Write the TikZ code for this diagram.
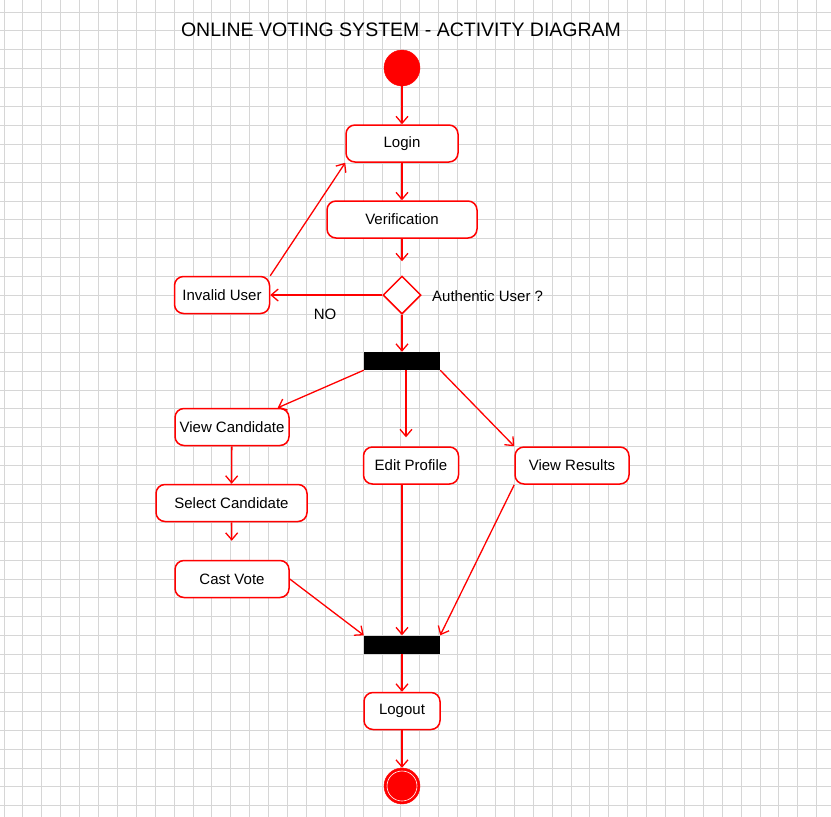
\documentclass[tikz,border=0pt]{standalone}
\usepackage{fontspec}
\setmainfont{Liberation Sans}
\usetikzlibrary{arrows.meta,shapes.geometric}
\definecolor{OvsRed}{RGB}{255,0,0}
\definecolor{OvsGrid}{RGB}{214,214,214}
\tikzset{
  ovs/box/.style={
    draw=OvsRed,
    line width=1.5pt,
    rounded corners=9pt,
    fill=white,
    align=center,
    text=black,
    minimum height=37pt,
    inner sep=0pt,
    font=\fontsize{15}{17}\selectfont
  },
  ovs/bar/.style={fill=black, draw=none, minimum width=76pt, minimum height=18pt, inner sep=0pt},
  ovs/start/.style={circle, fill=OvsRed, draw=OvsRed, minimum size=36pt, inner sep=0pt},
  ovs/stop/.style={circle, fill=OvsRed, draw=OvsRed, minimum size=36pt, inner sep=0pt,
    path picture={\draw[white, line width=0.6pt] (path picture bounding box.center) circle (15pt);}},
  ovs/decision/.style={diamond, draw=OvsRed, line width=1.5pt, fill=white, minimum width=38pt, minimum height=38pt, inner sep=0pt},
  ovs/arrow/.style={-{Straight Barb[length=7pt,width=12pt,line width=1.3pt]}, line width=1.3pt, draw=OvsRed},
  ovs/label/.style={font=\fontsize{15}{17}\selectfont, text=black, inner sep=0pt},
  ovs/title/.style={font=\fontsize{19.5}{22}\selectfont, text=black},
  ovs/gridline/.style={draw=OvsGrid, line width=1pt}
}

\begin{document}
\begin{tikzpicture}[x=1pt,y=-1pt]
  \useasboundingbox (0,0) rectangle (831,817);
  \fill[white] (0,0) rectangle (831,817);
  % background grid
  \foreach \i in {0,...,43} {
    \draw[ovs/gridline] ({4+18.9*\i},0) -- ({4+18.9*\i},817);
    \draw[ovs/gridline] (0,{12+18.9*\i}) -- (831,{12+18.9*\i});
  }

  \node[ovs/title] (title) at (401,30) {ONLINE VOTING SYSTEM - ACTIVITY DIAGRAM};

  \node[ovs/start] (init) at (402,68) {};
  \node[ovs/box,minimum width=112pt] (login) at (402,143.5) {Login};
  \node[ovs/box,minimum width=150pt] (verify) at (402,219.5) {Verification};
  \node[ovs/decision] (auth) at (402,295) {};
  \node[ovs/label,anchor=west] (authlbl) at (432,296) {Authentic User ?};
  \node[ovs/box,minimum width=95pt] (invalid) at (222,295) {Invalid User};
  \node[ovs/label] (nolbl) at (325,314) {NO};
  \node[ovs/bar] (fork) at (402,361) {};
  \node[ovs/box,minimum width=114pt] (viewcand) at (232,427) {View Candidate};
  \node[ovs/box,minimum width=95pt] (editprof) at (411,465.5) {Edit Profile};
  \node[ovs/box,minimum width=114pt] (viewres) at (572,465.5) {View Results};
  \node[ovs/box,minimum width=151pt] (selcand) at (231.5,503) {Select Candidate};
  \node[ovs/box,minimum width=114pt] (castvote) at (232,579) {Cast Vote};
  \node[ovs/bar] (join) at (402,644.5) {};
  \node[ovs/box,minimum width=76pt] (logout) at (402,711) {Logout};
  \node[ovs/stop] (final) at (402,786) {};

  % flows
  \draw[ovs/arrow] (init) -- (login);
  \draw[ovs/arrow] (login) -- (verify);
  \draw[ovs/arrow,shorten >=14pt] (verify) -- (auth);
  \draw[ovs/arrow] (auth.west) -- (invalid.east);
  \draw[ovs/arrow] (invalid.north east) -- (login.south west);
  \draw[ovs/arrow] (auth) -- (fork);
  \draw[ovs/arrow] (fork.south west) -- ([xshift=-12pt]viewcand.north east);
  \draw[ovs/arrow,shorten >=9pt] ([xshift=-5pt]editprof.north |- fork.south) -- ([xshift=-5pt]editprof.north);
  \draw[ovs/arrow] (fork.south east) -- (viewres.north west);
  \draw[ovs/arrow] (viewcand) -- (selcand);
  \draw[ovs/arrow,shorten >=19pt] (selcand) -- (castvote);
  \draw[ovs/arrow] (castvote.east) -- (join.north west);
  \draw[ovs/arrow] (editprof.south -| join.north) -- (join.north);
  \draw[ovs/arrow] (viewres.south west) -- (join.north east);
  \draw[ovs/arrow] (join) -- (logout);
  \draw[ovs/arrow] (logout) -- (final);
\end{tikzpicture}
\end{document}
